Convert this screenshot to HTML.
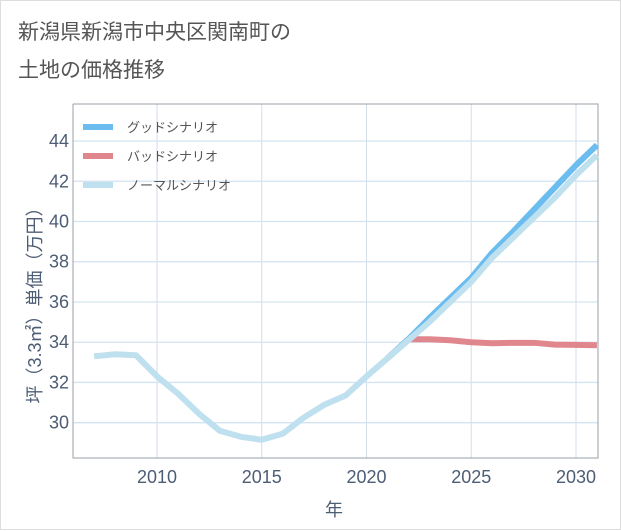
<!DOCTYPE html>
<html><head><meta charset="utf-8"><style>
body{margin:0;background:#fff;}
#wrap{position:relative;width:619px;height:528px;border:1px solid #ddd;background:#fff;font-family:"Liberation Sans","Noto Sans CJK JP",sans-serif;}
#title{position:absolute;left:17px;top:13px;font-size:21px;line-height:38px;color:#555;}
svg{position:absolute;left:0;top:0;}
</style></head><body>
<div id="wrap">
<div id="title">新潟県新潟市中央区関南町の<br>土地の価格推移</div>
<svg id="chart" width="621" height="530"></svg>
</div>
<script>
const years=[2007,2008,2009,2010,2011,2012,2013,2014,2015,2016,2017,2018,2019,2020,2021,2022,2023,2024,2025,2026,2027,2028,2029,2030,2031];
const normalValues=[33.3,33.4,33.35,32.3,31.45,30.45,29.6,29.3,29.15,29.45,30.25,30.9,31.35,32.3,33.2,34.1,35.0,36.0,37.0,38.2,39.2,40.2,41.2,42.3,43.3];
const goodYears=[2021,2022,2023,2024,2025,2026,2027,2028,2029,2030,2031];
const goodValues=[33.2,34.15,35.2,36.2,37.2,38.45,39.5,40.6,41.7,42.8,43.8];
const badValues=[33.2,34.15,34.15,34.1,34.0,33.95,33.97,33.97,33.88,33.87,33.85];
const xTicks=[2010,2015,2020,2025,2030];
const yTicks=[30,32,34,36,38,40,42,44];
const legendLabels=["グッドシナリオ","バッドシナリオ","ノーマルシナリオ"];

const L=72,R=597,T=103,B=457;
const X=y=>156+(y-2010)*20.95;
const Y=v=>421.7-(v-30)*20.12;
const svg=document.getElementById('chart');
const NS='http://www.w3.org/2000/svg';
function mk(t,a){const e=document.createElementNS(NS,t);for(const k in a)e.setAttribute(k,a[k]);svg.appendChild(e);return e;}

xTicks.forEach(t=>{
 const g=mk('line',{x1:X(t),x2:X(t),y1:T,y2:B,stroke:'#d3dde8','stroke-width':1});
 
 
 const tx=mk('text',{x:X(t),y:B+25,'text-anchor':'middle','font-size':18,fill:'#4d5d75'});
 tx.textContent=t;
 
 
});
yTicks.forEach(t=>{
 const g=mk('line',{x1:L,x2:R,y1:Y(t),y2:Y(t),stroke:'#d3e3ef','stroke-width':1.3});
 
 
 const tx=mk('text',{x:L-4,y:Y(t)+6,'text-anchor':'end','font-size':18,fill:'#4d5d75'});
 tx.textContent=t;
 
 
});
const ax=mk('path',{d:`M${L},${T}V${B}H${R}V${T}H${L}`,fill:'none',stroke:'#9aa0a8','stroke-width':1});



function line(xs,vs,color,name){
 const d=vs.map((v,i)=>(i?'L':'M')+X(xs[i])+','+Y(v)).join('');
 const p=mk('path',{d,fill:'none',stroke:color,'stroke-width':6,'stroke-linejoin':'round'});
 
 
}
line(goodYears,badValues,'#e0878e','bad-scenario-line');
line(goodYears,goodValues,'#6bbdf0','good-scenario-line');
line(years,normalValues,'#bfe0ee','normal-scenario-line');

const lc=['#6bbdf0','#e0878e','#bfe0ee'];
legendLabels.forEach((s,i)=>{
 const y=126+i*29;
 const l=mk('line',{x1:82,x2:112,y1:y,y2:y,stroke:lc[i],'stroke-width':6});
 
 
 const t=mk('text',{x:126,y:y+5,'font-size':13,fill:'#555'});
 t.textContent=s;
 
 
});
const xt=mk('text',{x:333,y:515,'text-anchor':'middle','font-size':18,fill:'#4d5d75'});
xt.textContent='年';


const yt=mk('text',{x:0,y:0,'text-anchor':'middle','font-size':18,fill:'#4d5d75',transform:'translate(40,300) rotate(-90)'});
yt.textContent='坪（3.3㎡）単価（万円）';


</script>
</body></html>
